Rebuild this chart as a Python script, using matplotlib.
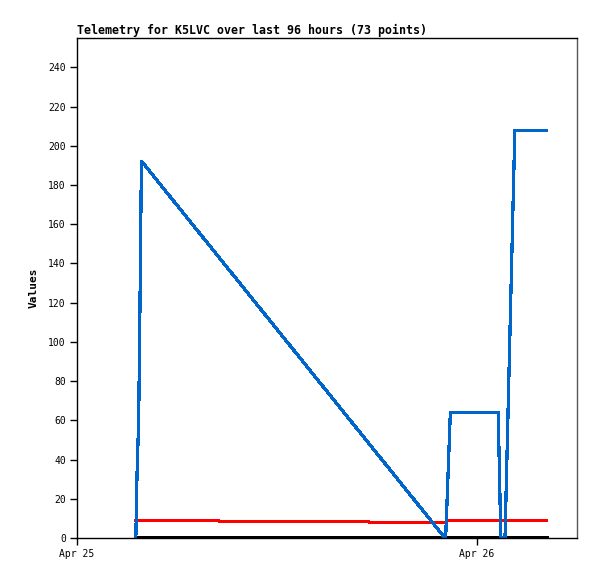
import pandas as pd
import matplotlib
matplotlib.use('Agg')
import matplotlib.pyplot as plt
import matplotlib.dates as mdates

# Hours after Apr 25 00:00 and values
start = pd.Timestamp('2025-04-25 00:00')

blue_hours = [3.53, 3.60, 3.70, 3.78, 3.85, 3.89, 22.08, 22.12, 22.40, 25.27, 25.43, 25.68, 26.27, 28.19]
blue_vals = [0, 32, 60, 120, 180, 192, 0, 0, 64, 64, 0, 0, 208, 208]

red_hours = [3.53, 8.50, 8.55, 17.50, 17.55, 22.15, 22.20, 28.19]
red_vals = [8.8, 8.8, 8.4, 8.4, 8.0, 8.0, 8.8, 8.8]

black_hours = [3.53, 28.19]
black_vals = [0, 0]

def to_time(hours):
    return [start + pd.Timedelta(hours=h) for h in hours]

mono = 'DejaVu Sans Mono'

fig = plt.figure(figsize=(5.97, 5.79), dpi=100)
ax = fig.add_axes([77/597, 1 - 538/579, 500/597, 500/579])

ax.plot(to_time(black_hours), black_vals, color='black', lw=1.6, antialiased=False)
ax.plot(to_time(red_hours), red_vals, color='#ff0000', lw=1.6, antialiased=False)
ax.plot(to_time(blue_hours), blue_vals, color='#0066cc', lw=1.6, antialiased=False)

ax.set_xlim(start, start + pd.Timedelta(hours=30))
ax.set_ylim(0, 255)
ax.set_yticks(range(0, 241, 20))
ax.xaxis.set_major_locator(mdates.DayLocator())
ax.xaxis.set_major_formatter(mdates.DateFormatter('%b %d'))

ax.tick_params(direction='out', length=5, width=1, labelsize=7, pad=3)
for lbl in ax.get_xticklabels() + ax.get_yticklabels():
    lbl.set_family(mono)

for s in ax.spines.values():
    s.set_linewidth(1)
ax.spines['right'].set_color('#555555')

ax.set_ylabel('Values', family=mono, fontweight='bold', fontsize=8, labelpad=7)
ax.set_title('Telemetry for K5LVC over last 96 hours (73 points)', family=mono,
             fontweight='bold', fontsize=8.4, loc='left', pad=3)

fig.savefig('out.png', dpi=100)
